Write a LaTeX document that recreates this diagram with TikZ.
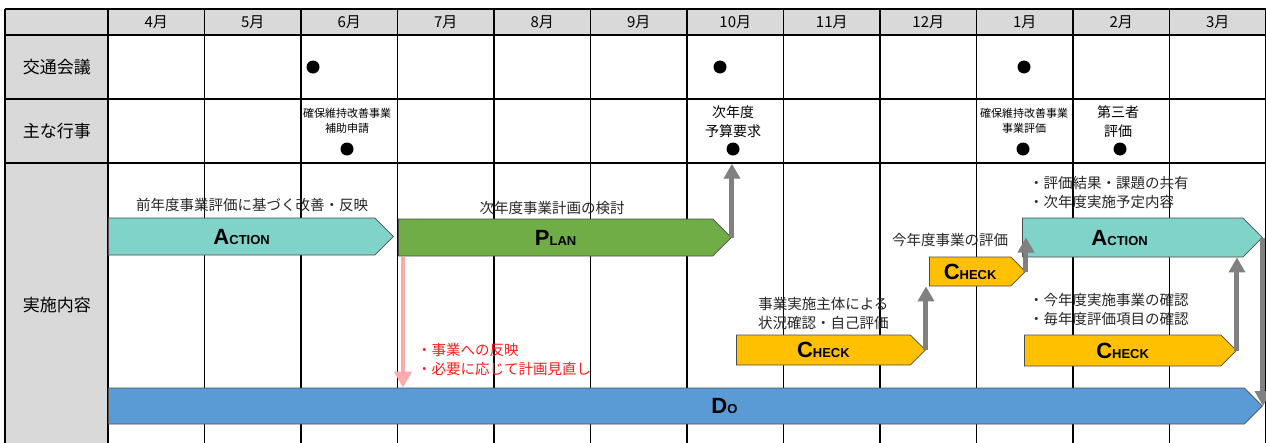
\documentclass[tikz,border=0pt]{standalone}
\usepackage{fontspec}
\setmainfont{Noto Sans CJK JP}
\newfontfamily\barfont{Liberation Sans}
\usepackage{tikz}
\usetikzlibrary{
  arrows.meta,
  positioning,
  shapes.symbols
}
\definecolor{hdrgray}{HTML}{D9D9D9}
\definecolor{actteal}{HTML}{7FD3C9}
\definecolor{plangreen}{HTML}{70AD47}
\definecolor{chkyellow}{HTML}{FFC000}
\definecolor{doblue}{HTML}{5B9BD5}
\definecolor{arrgray}{HTML}{808080}
\definecolor{revpink}{HTML}{FFAAAA}
\definecolor{revred}{HTML}{FF1A1A}
\newcommand{\pdca}[2]{{\barfont\bfseries\fontsize{22}{22}\selectfont #1\fontsize{13}{13}\selectfont #2}}

\begin{document}
\begin{tikzpicture}[
  x=1pt, y=-1pt,
  hdr/.style={font=\fontsize{15}{18}\selectfont, inner sep=0pt},
  rowhdr/.style={font=\fontsize{17}{20}\selectfont, inner sep=0pt},
  evsmall/.style={font=\fontsize{11}{15}\selectfont, align=center, inner sep=0pt},
  evbig/.style={font=\fontsize{14}{19}\selectfont, align=center, inner sep=0pt},
  dot/.style={circle, fill=black, minimum size=13pt, inner sep=0pt},
  bar/.style={shape=signal, signal to=east, draw=black!70, line width=0.8pt,
    inner sep=0pt, anchor=west},
  abar/.style={bar, fill=actteal},
  pbar/.style={bar, fill=plangreen},
  cbar/.style={bar, fill=chkyellow},
  dbar/.style={bar, fill=doblue},
  note/.style={font=\fontsize{14.5}{19}\selectfont, text=black!85, inner sep=0pt},
  garrow/.style={-{Triangle[length=15pt,width=16pt]}, line width=5pt, draw=arrgray},
  parrow/.style={-{Triangle[length=16pt,width=17pt]}, line width=4.5pt, draw=revpink},
]
\useasboundingbox (0,0) rectangle (1266,442);
\clip (0,0) rectangle (1266,442);

% table
\fill[hdrgray] (5,9) rectangle (1266,35);
\fill[hdrgray] (5,35) rectangle (108,450);
\foreach \y in {9,35,99,163}
  \draw[line width=1.2pt] (5,\y) -- (1266,\y);
\draw[line width=1.2pt] (5,9) -- (5,450);
\foreach \k in {0,...,12}
  \draw[line width=1.2pt] ({108+96.5*\k},9) -- ({108+96.5*\k},450);

\foreach \m [count=\i from 0] in {4,...,12,1,2,3}
  \node[hdr] (m\i) at ({108+96.5*(\i+0.5)},22) {\m 月};

\node[rowhdr] (kotsu) at (57,67) {交通会議};
\node[rowhdr] (gyoji) at (57,131) {主な行事};
\node[rowhdr] (jisshi) at (57,305) {実施内容};

% meetings
\node[dot] (mt6) at (313,67) {};
\node[dot] (mt10) at (720,67) {};
\node[dot] (mt1) at (1024,67) {};

% events
\node[evsmall] (ev6) at (347,120.5) {確保維持改善事業\\補助申請};
\node[evbig] (ev10) at (733,121.5) {次年度\\予算要求};
\node[evsmall] (ev1) at (1024,120.5) {確保維持改善事業\\事業評価};
\node[evbig] (ev2) at (1118,121.5) {第三者\\評価};
\node[dot] (d6) at (347,149) {};
\node[dot] (d10) at (733,149) {};
\node[dot] (d1) at (1023,149) {};
\node[dot] (d2) at (1120,149) {};

% bars
\node[abar, minimum width=285pt, minimum height=37pt] (act1) at (108,236.5) {\pdca{A}{CTION}};
\node[pbar, minimum width=333pt, minimum height=37pt] (plan) at (398,237.5) {\pdca{P}{LAN}};
\node[cbar, minimum width=189pt, minimum height=30pt] (chk1) at (736,350) {\pdca{C}{HECK}};
\node[cbar, minimum width=96pt, minimum height=29pt] (chk2) at (929,271.5) {\pdca{C}{HECK}};
\node[abar, minimum width=240pt, minimum height=39pt] (act2) at (1022,237.5) {\pdca{A}{CTION}\hspace*{26pt}};
\node[cbar, minimum width=212pt, minimum height=31pt] (chk3) at (1024,350.5) {\pdca{C}{HECK}};
\node[dbar, minimum width=1154pt, minimum height=36pt] (do) at (108,406) {\hspace*{96pt}\pdca{D}{O}};

% texts
\node[note] (actnote1) at (252,205) {前年度事業評価に基づく改善・反映};
\node[note] (plannote) at (552,208) {次年度事業計画の検討};
\node[note, align=center, above=5pt of chk1] (chknote1) {事業実施主体による\\状況確認・自己評価};
\node[note] (chknote2) at (950,240) {今年度事業の評価};
\node[note, align=left, anchor=north west] (actnote2) at (1029,176) {・評価結果・課題の共有\\・次年度実施予定内容};
\node[note, align=left, anchor=north west] (chknote3) at (1029,293) {・今年度実施事業の確認\\・毎年度評価項目の確認};
\node[note, align=left, anchor=north west, text=revred] (revnote) at (417,343) {・事業への反映\\・必要に応じて計画見直し};

% arrows
\coordinate (revtop) at (403,257);
\draw[parrow] (revtop) -- (revtop |- do.north);
\draw[garrow, shorten >=8pt] (plan.east) -- (plan.east |- d10.south);
\draw[garrow] (chk1.east) -- (chk1.east |- chk2.south);
\draw[garrow] (chk2.east) -- (chk2.east |- act2.west);
\draw[garrow] (chk3.east) -- (chk3.east |- act2.south);
\draw[garrow] (act2.east) -- (do.east);

\end{tikzpicture}
\end{document}
